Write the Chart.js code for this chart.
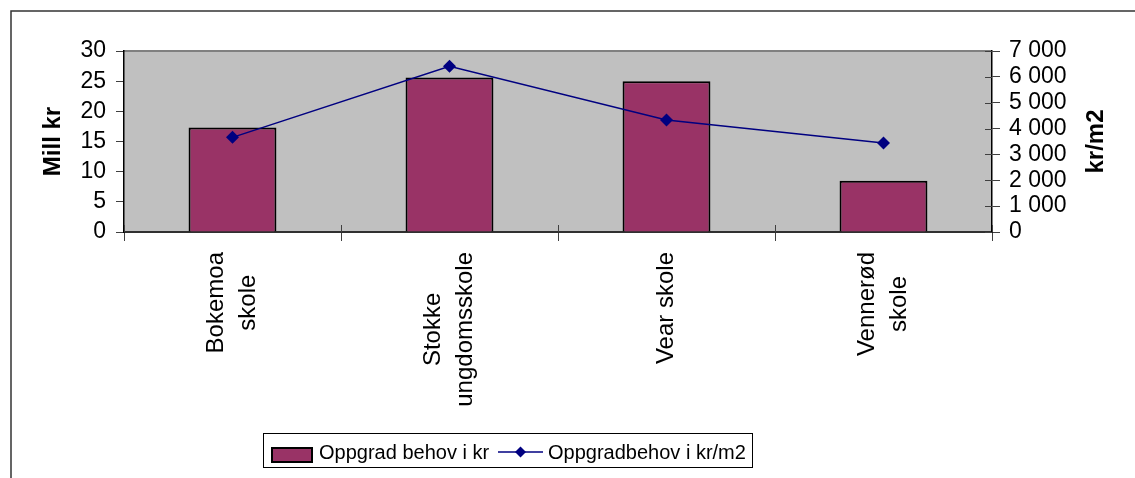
<!DOCTYPE html>
<html><head><meta charset="utf-8">
<script src="https://cdn.jsdelivr.net/npm/chart.js@4/dist/chart.umd.min.js"></script>
<style>html,body{margin:0;padding:0;background:#fff;}#wrap{width:1135px;height:478px;}</style>
</head><body><div id="wrap"><canvas id="c" width="1135" height="478"></canvas></div>
<script>
const categories = [["Bokemoa","skole"],["Stokke","ungdomsskole"],["Vear skole"],["Vennerød","skole"]];
const barValues = [17.3, 25.6, 25.0, 8.5];
const lineValues = [3660, 6410, 4330, 3440];
const leftTicks = [0, 5, 10, 15, 20, 25, 30];
const rightTicks = [0, 1000, 2000, 3000, 4000, 5000, 6000, 7000];
const seriesNames = ["Oppgrad behov i kr", "Oppgradbehov i kr/m2"];
const axisTitles = ["Mill kr", "kr/m2"];

const FONT = '"Liberation Sans", Arial, sans-serif';
const BAR_COLOR = '#993366';
const LINE_COLOR = '#000080';
const fmtSpace = v => String(v).replace(/\B(?=(\d{3})+(?!\d))/g, ' ');

const decor = {
  id: 'decor',
  beforeDraw(chart) {
    const {ctx, chartArea: a} = chart;
    ctx.save();
    ctx.fillStyle = '#C0C0C0';
    ctx.fillRect(a.left, a.top, a.right - a.left, a.bottom - a.top);
    ctx.strokeStyle = '#808080';
    ctx.lineWidth = 2;
    ctx.beginPath();
    ctx.moveTo(a.left, a.top); ctx.lineTo(a.right, a.top);
    ctx.stroke();
    ctx.restore();
  },
  afterDraw(chart) {
    const {ctx, chartArea: a, scales} = chart;
    ctx.save();
    ctx.strokeStyle = '#404040';
    ctx.lineWidth = 1;
    const xs = scales.x;
    for (let i = 0; i <= categories.length; i++) {
      const px = Math.round(xs.getPixelForValue(i - 0.5)) + 0.5;
      ctx.beginPath(); ctx.moveTo(px, a.bottom - 7); ctx.lineTo(px, a.bottom); ctx.stroke();
    }
    const y2 = scales.y2;
    rightTicks.forEach(v => {
      const py = Math.round(y2.getPixelForValue(v)) + 0.5;
      ctx.beginPath(); ctx.moveTo(a.right - 7, py); ctx.lineTo(a.right, py); ctx.stroke();
    });
    ctx.fillStyle = '#000';
    ctx.font = '24px ' + FONT;
    ctx.textAlign = 'center';
    ctx.textBaseline = 'alphabetic';
    const L = 32, asc = 22.8;
    categories.forEach((lines, i) => {
      const c = xs.getPixelForValue(i);
      const maxW = Math.max(...lines.map(t => ctx.measureText(t).width));
      const cy = a.bottom + 20 + maxW / 2;
      lines.forEach((t, j) => {
        const bx = c - lines.length * L / 2 + j * L + asc;
        ctx.save();
        ctx.translate(bx, cy);
        ctx.rotate(-Math.PI / 2);
        ctx.fillText(t, 0, 0);
        ctx.restore();
      });
    });
    ctx.font = 'bold 24px ' + FONT;
    const midY = (a.top + a.bottom) / 2;
    [[60, axisTitles[0]], [1103, axisTitles[1]]].forEach(([bx, t]) => {
      ctx.save();
      ctx.translate(bx, midY);
      ctx.rotate(-Math.PI / 2);
      ctx.fillText(t, 0, 0);
      ctx.restore();
    });
    const ds = chart.data.datasets;
    ctx.lineWidth = 1;
    ctx.strokeStyle = '#000';
    ctx.strokeRect(263.5, 433.5, 489, 34);
    ctx.fillStyle = ds[0].backgroundColor;
    ctx.fillRect(271, 447, 42, 16);
    ctx.lineWidth = 2;
    ctx.strokeRect(272, 448, 40, 14);
    ctx.font = '20px ' + FONT;
    ctx.textAlign = 'left';
    ctx.fillStyle = '#000';
    ctx.fillText(ds[0].label, 319, 459);
    ctx.strokeStyle = ds[1].borderColor;
    ctx.lineWidth = 1.5;
    ctx.beginPath(); ctx.moveTo(498, 452); ctx.lineTo(543, 452); ctx.stroke();
    ctx.fillStyle = ds[1].backgroundColor;
    ctx.beginPath();
    ctx.moveTo(520.5, 446.5); ctx.lineTo(526, 452); ctx.lineTo(520.5, 457.5); ctx.lineTo(515, 452);
    ctx.closePath(); ctx.fill();
    ctx.fillStyle = '#000';
    ctx.fillText(ds[1].label, 548, 459);
    ctx.strokeStyle = '#333';
    ctx.lineWidth = 1.5;
    ctx.strokeRect(11, 11, 1200, 600);
    ctx.restore();
  }
};

new Chart(document.getElementById('c'), {
  data: {
    labels: categories,
    datasets: [
      {
        type: 'bar', label: seriesNames[0], data: barValues, yAxisID: 'y',
        backgroundColor: BAR_COLOR, borderColor: '#000', borderWidth: 2,
        barPercentage: 0.405, categoryPercentage: 1.0, order: 2
      },
      {
        type: 'line', label: seriesNames[1], data: lineValues, yAxisID: 'y2',
        borderColor: LINE_COLOR, backgroundColor: LINE_COLOR, borderWidth: 1.5,
        pointStyle: 'rectRot', pointRadius: 6.5, pointBorderWidth: 0,
        tension: 0, order: 1
      }
    ]
  },
  options: {
    responsive: false,
    animation: false,
    devicePixelRatio: 1,
    layout: { padding: { top: 51, left: 0, right: 0, bottom: 0 } },
    plugins: { legend: { display: false }, tooltip: { enabled: false }, title: { display: false } },
    scales: {
      x: {
        type: 'category', offset: true,
        grid: { display: true, offset: true, drawOnChartArea: false, drawTicks: true, tickLength: 9, color: '#404040', lineWidth: 1 },
        border: { display: true, color: '#303030', width: 2 },
        ticks: { color: 'transparent', autoSkip: false, minRotation: 90, maxRotation: 90, font: { family: FONT, size: 24 } },
        afterFit: s => { s.height = 478 - 232; }
      },
      y: {
        position: 'left', min: 0, max: 30,
        afterBuildTicks: s => { s.ticks = leftTicks.map(v => ({ value: v })); },
        grid: { drawOnChartArea: false, drawTicks: true, tickLength: 8, color: '#404040', lineWidth: 1 },
        border: { display: true, color: '#000', width: 1.5 },
        ticks: { color: '#000', autoSkip: false, padding: 10, font: { family: FONT, size: 23 } },
        afterFit: s => { s.width = 124; }
      },
      y2: {
        position: 'right', min: 0, max: 7000,
        afterBuildTicks: s => { s.ticks = rightTicks.map(v => ({ value: v })); },
        grid: { drawOnChartArea: false, drawTicks: true, tickLength: 8, color: '#404040', lineWidth: 1 },
        border: { display: true, color: '#000', width: 1.5 },
        ticks: { color: '#000', autoSkip: false, padding: 9, font: { family: FONT, size: 23 }, callback: v => fmtSpace(v) },
        afterFit: s => { s.width = 1135 - 992; }
      }
    }
  },
  plugins: [decor]
});
</script>
</body></html>
